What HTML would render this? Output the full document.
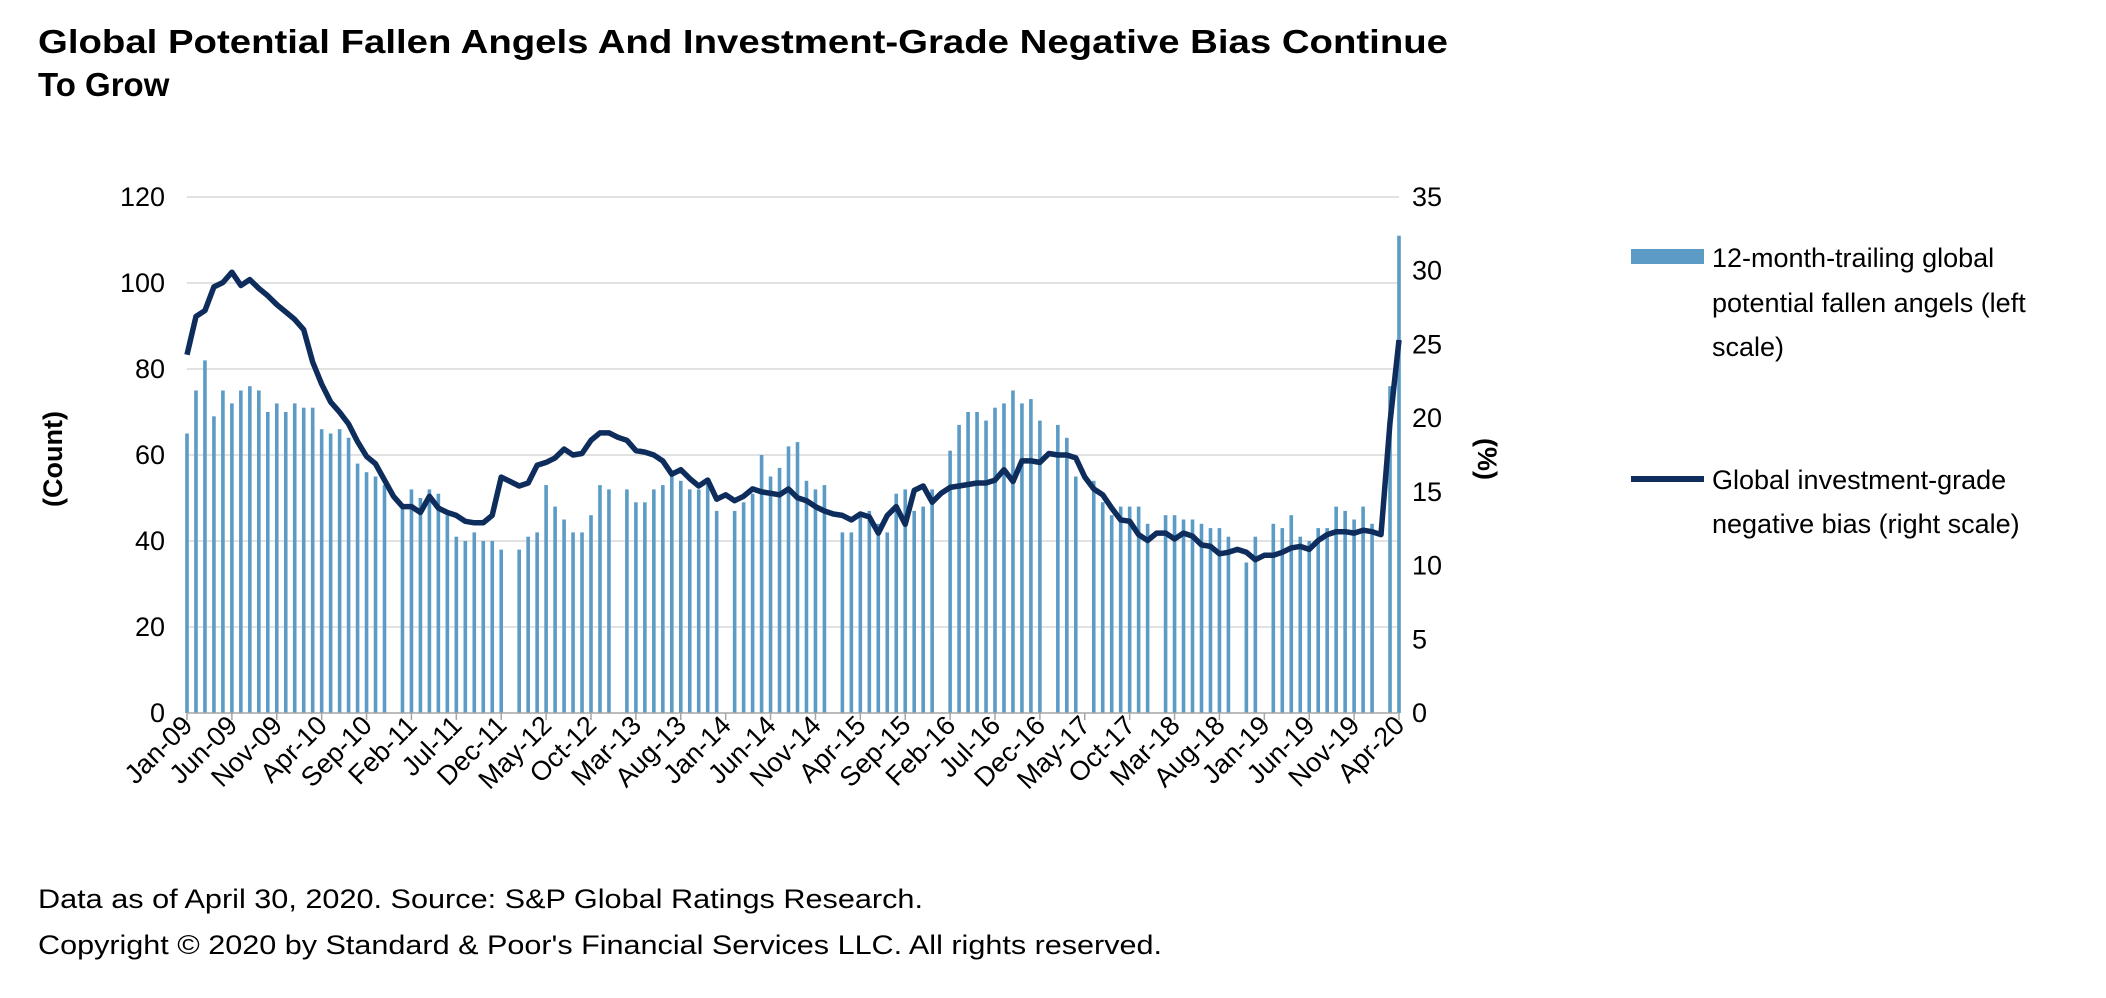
<!DOCTYPE html>
<html><head><meta charset="utf-8"><style>
html,body{margin:0;padding:0;background:#fff;}
svg{display:block;font-family:"Liberation Sans",Arial,sans-serif;}
</style></head><body>
<svg id="chart" width="2106" height="998" viewBox="0 0 2106 998">
<text x="38" y="53" font-size="33" font-weight="bold" fill="#000" textLength="1410" lengthAdjust="spacingAndGlyphs">Global Potential Fallen Angels And Investment-Grade Negative Bias Continue</text>
<text x="38" y="96" font-size="33" font-weight="bold" fill="#000">To Grow</text>
<g id="grid"></g><g id="bars"></g><g id="line"></g><g id="axes"></g>
<text transform="translate(62,459) rotate(-90)" text-anchor="middle" font-size="27" font-weight="bold">(Count)</text>
<text transform="translate(1478,459) rotate(90)" text-anchor="middle" font-size="27" font-weight="bold">(%)</text>
<g>
<rect x="1631" y="249" width="73" height="15" fill="#5b9bc5"/>
<text x="1712" y="267" font-size="27">12-month-trailing global</text>
<text x="1712" y="312" font-size="27">potential fallen angels (left</text>
<text x="1712" y="356" font-size="27">scale)</text>
<line x1="1631" y1="479" x2="1704" y2="479" stroke="#0e2d5c" stroke-width="6"/>
<text x="1712" y="489" font-size="27">Global investment-grade</text>
<text x="1712" y="533" font-size="27">negative bias (right scale)</text>
</g>
<text x="38" y="908" font-size="27" textLength="885" lengthAdjust="spacingAndGlyphs">Data as of April 30, 2020. Source: S&amp;P Global Ratings Research.</text>
<text x="38" y="954" font-size="27" textLength="1124" lengthAdjust="spacingAndGlyphs">Copyright © 2020 by Standard &amp; Poor's Financial Services LLC. All rights reserved.</text>
</svg>
<script>
const xLabels = ["Jan-09","Jun-09","Nov-09","Apr-10","Sep-10","Feb-11","Jul-11","Dec-11","May-12","Oct-12","Mar-13","Aug-13","Jan-14","Jun-14","Nov-14","Apr-15","Sep-15","Feb-16","Jul-16","Dec-16","May-17","Oct-17","Mar-18","Aug-18","Jan-19","Jun-19","Nov-19","Apr-20"];
const leftTicks = [0,20,40,60,80,100,120];
const rightTicks = [0,5,10,15,20,25,30,35];
const fallenAngels = [65,75,82,69,75,72,75,76,75,70,72,70,72,71,71,66,65,66,64,58,56,55,53,0,48,52,50,52,51,46,41,40,42,40,40,38,0,38,41,42,53,48,45,42,42,46,53,52,0,52,49,49,52,53,55,54,52,52,53,47,0,47,49,51,60,55,57,62,63,
54,52,53,0,42,42,46,47,44,42,51,52,47,48,52,0,61,67,70,70,68,71,72,75,72,73,68,0,67,64,55,0,54,49,46,48,48,48,44,0,46,46,45,45,44,43,43,41,0,35,41,0,44,43,46,41,40,43,43,48,47,45,48,44,0,76,111];
const negBias = [24.3,26.9,27.3,28.9,29.2,29.9,29.0,29.4,28.8,28.3,27.7,27.2,26.7,26.0,23.8,22.3,21.1,20.4,19.6,18.4,17.4,16.9,15.8,14.7,14.0,14.0,13.6,14.7,13.9,13.6,13.4,13.0,12.9,12.9,13.4,16.0,15.7,15.4,15.6,16.8,17.0,17.3,17.9,17.5,17.6,18.5,19.0,19.0,18.7,18.5,17.8,17.7,17.5,17.1,16.2,16.5,15.9,15.4,15.8,14.5,14.8,14.4,14.7,15.2,15.0,14.9,14.8,15.2,14.6,
14.4,14.0,13.7,13.5,13.4,13.1,13.5,13.3,12.2,13.4,14.0,12.8,15.1,15.4,14.3,14.9,15.3,15.4,15.5,15.6,15.6,15.8,16.5,15.7,17.1,17.1,17.0,17.6,17.5,17.5,17.3,16.0,15.2,14.8,13.9,13.1,13.0,12.1,11.7,12.2,12.2,11.8,12.2,12.0,11.4,11.3,10.8,10.9,11.1,10.9,10.4,10.7,10.7,10.9,11.2,11.3,11.1,11.7,12.1,12.3,12.3,12.2,12.4,12.3,12.1,19.7,25.3];

const NS="http://www.w3.org/2000/svg";
const X0=187,X1=1399,Y0=713,YT=197;
const N=fallenAngels.length;
function xs(i){return X0+(X1-X0)*i/(N-1);}
function yl(v){return Y0-(Y0-YT)*v/120;}
function yr(v){return Y0-(Y0-YT)*v/35;}
function mk(tag,attrs,parent){const e=document.createElementNS(NS,tag);for(const k in attrs)e.setAttribute(k,attrs[k]);parent.appendChild(e);return e;}
const grid=document.getElementById('grid'),bars=document.getElementById('bars'),lineG=document.getElementById('line'),axes=document.getElementById('axes');
leftTicks.forEach(v=>{
  if(v>0){const g=mk('line',{x1:X0,x2:X1,y1:yl(v),y2:yl(v),stroke:'#d9d9d9','stroke-width':1.5},grid);
  
  }
  const t=mk('text',{x:165,y:yl(v)+9,'text-anchor':'end','font-size':27},axes);t.textContent=v;
  
  
});
rightTicks.forEach(v=>{
  const t=mk('text',{x:1412,y:yr(v)+9,'font-size':27},axes);t.textContent=v;
  
  
});
fallenAngels.forEach((v,i)=>{
  if(v<=0)return;
  const r=mk('rect',{x:xs(i)-1.8,y:yl(v),width:3.6,height:Y0-yl(v),fill:'#5b9bc5'},bars);
  
  
});
const p=mk('polyline',{points:negBias.map((v,i)=>xs(i).toFixed(1)+','+yr(v).toFixed(1)).join(' '),fill:'none',stroke:'#0e2d5c','stroke-width':5.5,'stroke-linejoin':'round'},lineG);


const ax=mk('line',{x1:X0,x2:X1,y1:Y0,y2:Y0,stroke:'#a6a6a6','stroke-width':1.5},axes);


xLabels.forEach((s,k)=>{
  const x=xs(k*5);
  const tk=mk('line',{x1:x,x2:x,y1:Y0,y2:Y0+7,stroke:'#a6a6a6','stroke-width':1.5},axes);
  
  
  const t=mk('text',{transform:'translate('+(x+7)+','+(Y0+14)+') rotate(-45)','text-anchor':'end','font-size':27},axes);
  t.textContent=s;
  
  
});
</script>
</body></html>
